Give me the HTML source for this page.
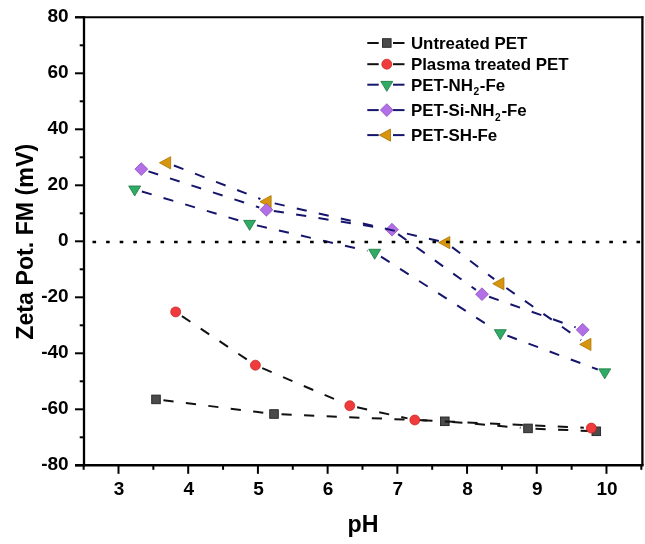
<!DOCTYPE html>
<html><head><meta charset="utf-8"><style>
html,body{margin:0;padding:0;background:#fff;}
svg{display:block;will-change:transform;}
text{font-family:"Liberation Sans",sans-serif;font-weight:bold;fill:#000;}
.tk{font-size:19px;}
.al{font-size:23.2px;}
.lg{font-size:16.9px;}
.sub{font-size:10.2px;}
</style></head><body>
<svg width="645" height="544" viewBox="0 0 645 544">
<rect width="645" height="544" fill="#fff"/>
<line x1="84" y1="16.3" x2="84" y2="466.4" stroke="#000" stroke-width="2.3"/>
<line x1="75" y1="17.3" x2="643.4" y2="17.3" stroke="#000" stroke-width="2"/>
<line x1="642.4" y1="16.3" x2="642.4" y2="465.2" stroke="#000" stroke-width="2.3"/>
<line x1="75" y1="465.2" x2="643.6" y2="465.2" stroke="#000" stroke-width="2.6"/>
<line x1="75" y1="465.30" x2="84" y2="465.30" stroke="#000" stroke-width="2"/>
<text x="68.6" y="470.40" text-anchor="end" class="tk">-80</text>
<line x1="79.7" y1="437.30" x2="84" y2="437.30" stroke="#000" stroke-width="2"/>
<line x1="75" y1="409.30" x2="84" y2="409.30" stroke="#000" stroke-width="2"/>
<text x="68.6" y="414.40" text-anchor="end" class="tk">-60</text>
<line x1="79.7" y1="381.30" x2="84" y2="381.30" stroke="#000" stroke-width="2"/>
<line x1="75" y1="353.30" x2="84" y2="353.30" stroke="#000" stroke-width="2"/>
<text x="68.6" y="358.40" text-anchor="end" class="tk">-40</text>
<line x1="79.7" y1="325.30" x2="84" y2="325.30" stroke="#000" stroke-width="2"/>
<line x1="75" y1="297.30" x2="84" y2="297.30" stroke="#000" stroke-width="2"/>
<text x="68.6" y="302.40" text-anchor="end" class="tk">-20</text>
<line x1="79.7" y1="269.30" x2="84" y2="269.30" stroke="#000" stroke-width="2"/>
<line x1="75" y1="241.30" x2="84" y2="241.30" stroke="#000" stroke-width="2"/>
<text x="68.6" y="246.40" text-anchor="end" class="tk">0</text>
<line x1="79.7" y1="213.30" x2="84" y2="213.30" stroke="#000" stroke-width="2"/>
<line x1="75" y1="185.30" x2="84" y2="185.30" stroke="#000" stroke-width="2"/>
<text x="68.6" y="190.40" text-anchor="end" class="tk">20</text>
<line x1="79.7" y1="157.30" x2="84" y2="157.30" stroke="#000" stroke-width="2"/>
<line x1="75" y1="129.30" x2="84" y2="129.30" stroke="#000" stroke-width="2"/>
<text x="68.6" y="134.40" text-anchor="end" class="tk">40</text>
<line x1="79.7" y1="101.30" x2="84" y2="101.30" stroke="#000" stroke-width="2"/>
<line x1="75" y1="73.30" x2="84" y2="73.30" stroke="#000" stroke-width="2"/>
<text x="68.6" y="78.40" text-anchor="end" class="tk">60</text>
<line x1="79.7" y1="45.30" x2="84" y2="45.30" stroke="#000" stroke-width="2"/>
<line x1="75" y1="17.30" x2="84" y2="17.30" stroke="#000" stroke-width="2"/>
<text x="68.6" y="22.40" text-anchor="end" class="tk">80</text>
<line x1="83.65" y1="465.2" x2="83.65" y2="469.8" stroke="#000" stroke-width="2"/>
<line x1="118.50" y1="465.2" x2="118.50" y2="473.8" stroke="#000" stroke-width="2"/>
<text x="119.00" y="494.9" text-anchor="middle" class="tk">3</text>
<line x1="153.35" y1="465.2" x2="153.35" y2="469.8" stroke="#000" stroke-width="2"/>
<line x1="188.21" y1="465.2" x2="188.21" y2="473.8" stroke="#000" stroke-width="2"/>
<text x="188.71" y="494.9" text-anchor="middle" class="tk">4</text>
<line x1="223.06" y1="465.2" x2="223.06" y2="469.8" stroke="#000" stroke-width="2"/>
<line x1="257.92" y1="465.2" x2="257.92" y2="473.8" stroke="#000" stroke-width="2"/>
<text x="258.42" y="494.9" text-anchor="middle" class="tk">5</text>
<line x1="292.77" y1="465.2" x2="292.77" y2="469.8" stroke="#000" stroke-width="2"/>
<line x1="327.63" y1="465.2" x2="327.63" y2="473.8" stroke="#000" stroke-width="2"/>
<text x="328.13" y="494.9" text-anchor="middle" class="tk">6</text>
<line x1="362.49" y1="465.2" x2="362.49" y2="469.8" stroke="#000" stroke-width="2"/>
<line x1="397.34" y1="465.2" x2="397.34" y2="473.8" stroke="#000" stroke-width="2"/>
<text x="397.84" y="494.9" text-anchor="middle" class="tk">7</text>
<line x1="432.19" y1="465.2" x2="432.19" y2="469.8" stroke="#000" stroke-width="2"/>
<line x1="467.05" y1="465.2" x2="467.05" y2="473.8" stroke="#000" stroke-width="2"/>
<text x="467.55" y="494.9" text-anchor="middle" class="tk">8</text>
<line x1="501.90" y1="465.2" x2="501.90" y2="469.8" stroke="#000" stroke-width="2"/>
<line x1="536.76" y1="465.2" x2="536.76" y2="473.8" stroke="#000" stroke-width="2"/>
<text x="537.26" y="494.9" text-anchor="middle" class="tk">9</text>
<line x1="571.62" y1="465.2" x2="571.62" y2="469.8" stroke="#000" stroke-width="2"/>
<line x1="606.47" y1="465.2" x2="606.47" y2="473.8" stroke="#000" stroke-width="2"/>
<text x="606.97" y="494.9" text-anchor="middle" class="tk">10</text>
<line x1="641.32" y1="465.2" x2="641.32" y2="469.8" stroke="#000" stroke-width="2"/>
<g stroke="#111" stroke-width="2" stroke-dasharray="10.2 12.4" fill="none"><line x1="163.44" y1="400.32" x2="266.56" y2="413.08"/><line x1="281.49" y1="414.32" x2="437.31" y2="420.98"/><line x1="452.27" y1="421.94" x2="520.53" y2="427.76"/><line x1="535.49" y1="428.72" x2="588.81" y2="430.98"/></g>
<rect x="151.70" y="395.10" width="8.6" height="8.6" fill="#4b4b4b" stroke="#222" stroke-width="0.9"/><rect x="269.70" y="409.70" width="8.6" height="8.6" fill="#4b4b4b" stroke="#222" stroke-width="0.9"/><rect x="440.50" y="417.00" width="8.6" height="8.6" fill="#4b4b4b" stroke="#222" stroke-width="0.9"/><rect x="523.70" y="424.10" width="8.6" height="8.6" fill="#4b4b4b" stroke="#222" stroke-width="0.9"/><rect x="592.00" y="427.00" width="8.6" height="8.6" fill="#4b4b4b" stroke="#222" stroke-width="0.9"/>
<g stroke="#111" stroke-width="2" stroke-dasharray="10.2 12.4" fill="none"><line x1="181.93" y1="316.07" x2="249.17" y2="361.03"/><line x1="262.29" y1="368.16" x2="342.91" y2="402.74"/><line x1="357.12" y1="407.31" x2="407.48" y2="418.39"/><line x1="422.29" y1="420.34" x2="583.81" y2="427.76"/></g>
<circle cx="175.70" cy="311.90" r="5.0" fill="#ef3b3b" stroke="#c42222" stroke-width="0.7"/><circle cx="255.40" cy="365.20" r="5.0" fill="#ef3b3b" stroke="#c42222" stroke-width="0.7"/><circle cx="349.80" cy="405.70" r="5.0" fill="#ef3b3b" stroke="#c42222" stroke-width="0.7"/><circle cx="414.80" cy="420.00" r="5.0" fill="#ef3b3b" stroke="#c42222" stroke-width="0.7"/><circle cx="591.30" cy="428.10" r="5.0" fill="#ef3b3b" stroke="#c42222" stroke-width="0.7"/>
<g stroke="#15156c" stroke-width="2" stroke-dasharray="10.2 12.4" fill="none"><line x1="141.88" y1="191.45" x2="242.42" y2="221.55"/><line x1="256.91" y1="225.39" x2="367.39" y2="250.91"/><line x1="381.02" y1="256.64" x2="493.98" y2="328.96"/><line x1="507.32" y1="335.64" x2="597.73" y2="369.56"/></g>
<polygon points="128.70,185.97 140.70,185.97 134.70,195.97" fill="#30ab66" stroke="#1c7642" stroke-width="0.8" stroke-linejoin="miter"/><polygon points="243.60,220.37 255.60,220.37 249.60,230.37" fill="#30ab66" stroke="#1c7642" stroke-width="0.8" stroke-linejoin="miter"/><polygon points="368.70,249.27 380.70,249.27 374.70,259.27" fill="#30ab66" stroke="#1c7642" stroke-width="0.8" stroke-linejoin="miter"/><polygon points="494.30,329.67 506.30,329.67 500.30,339.67" fill="#30ab66" stroke="#1c7642" stroke-width="0.8" stroke-linejoin="miter"/><polygon points="598.75,368.87 610.75,368.87 604.75,378.87" fill="#30ab66" stroke="#1c7642" stroke-width="0.8" stroke-linejoin="miter"/>
<g stroke="#15156c" stroke-width="2" stroke-dasharray="10.2 12.4" fill="none"><line x1="148.43" y1="171.42" x2="259.27" y2="207.48"/><line x1="273.81" y1="210.97" x2="384.59" y2="228.53"/><line x1="398.10" y1="234.07" x2="475.90" y2="289.83"/><line x1="489.07" y1="296.70" x2="575.63" y2="327.30"/></g>
<polygon points="159.43,162.80 170.63,156.70 170.63,168.90" fill="#d8960f" stroke="#a97400" stroke-width="0.8"/><polygon points="259.93,201.70 271.13,195.60 271.13,207.80" fill="#d8960f" stroke="#a97400" stroke-width="0.8"/><polygon points="438.63,242.60 449.83,236.50 449.83,248.70" fill="#d8960f" stroke="#a97400" stroke-width="0.8"/><polygon points="492.73,283.70 503.93,277.60 503.93,289.80" fill="#d8960f" stroke="#a97400" stroke-width="0.8"/><polygon points="579.73,344.40 590.93,338.30 590.93,350.50" fill="#d8960f" stroke="#a97400" stroke-width="0.8"/>
<polygon points="141.30,162.70 147.70,169.10 141.30,175.50 134.90,169.10" fill="#b36fe6" stroke="#8b4cc0" stroke-width="0.8"/><polygon points="266.40,203.40 272.80,209.80 266.40,216.20 260.00,209.80" fill="#b36fe6" stroke="#8b4cc0" stroke-width="0.8"/><polygon points="392.00,223.30 398.40,229.70 392.00,236.10 385.60,229.70" fill="#b36fe6" stroke="#8b4cc0" stroke-width="0.8"/><polygon points="482.00,287.80 488.40,294.20 482.00,300.60 475.60,294.20" fill="#b36fe6" stroke="#8b4cc0" stroke-width="0.8"/><polygon points="582.70,323.40 589.10,329.80 582.70,336.20 576.30,329.80" fill="#b36fe6" stroke="#8b4cc0" stroke-width="0.8"/>
<g stroke="#15156c" stroke-width="2" stroke-dasharray="10.2 12.4" fill="none"><line x1="173.89" y1="165.51" x2="260.41" y2="198.99"/><line x1="274.71" y1="203.37" x2="438.79" y2="240.93"/><line x1="452.07" y1="247.14" x2="494.23" y2="279.16"/><line x1="506.35" y1="287.99" x2="581.05" y2="340.11"/></g>
<line x1="92.5" y1="242" x2="641" y2="242" stroke="#000" stroke-width="2.6" stroke-dasharray="3.6 10" />
<text x="33" y="241.8" transform="rotate(-90 33 241.8)" text-anchor="middle" class="al">Zeta Pot. FM (mV)</text>
<text x="363" y="532" text-anchor="middle" class="al">pH</text>
<line x1="367.3" y1="43" x2="378.7" y2="43" stroke="#111" stroke-width="2"/>
<line x1="393" y1="43" x2="404.5" y2="43" stroke="#111" stroke-width="2"/>
<rect x="382.50" y="38.70" width="8.6" height="8.6" fill="#4b4b4b" stroke="#222" stroke-width="0.9"/>
<text x="410.9" y="49.10" class="lg">Untreated PET</text>
<line x1="367.3" y1="64.2" x2="378.7" y2="64.2" stroke="#111" stroke-width="2"/>
<line x1="393" y1="64.2" x2="404.5" y2="64.2" stroke="#111" stroke-width="2"/>
<circle cx="386.80" cy="64.20" r="5.0" fill="#ef3b3b" stroke="#c42222" stroke-width="0.7"/>
<text x="410.9" y="70.30" class="lg">Plasma treated PET</text>
<line x1="367.3" y1="84.7" x2="378.7" y2="84.7" stroke="#15156c" stroke-width="2"/>
<line x1="393" y1="84.7" x2="404.5" y2="84.7" stroke="#15156c" stroke-width="2"/>
<polygon points="380.80,81.37 392.80,81.37 386.80,91.37" fill="#30ab66" stroke="#1c7642" stroke-width="0.8" stroke-linejoin="miter"/>
<text x="410.9" y="90.80" class="lg">PET-NH<tspan class="sub" dx="0.6" dy="4.3">2</tspan><tspan dx="0.7" dy="-4.3">-Fe</tspan></text>
<line x1="367.3" y1="110.1" x2="378.7" y2="110.1" stroke="#15156c" stroke-width="2"/>
<line x1="393" y1="110.1" x2="404.5" y2="110.1" stroke="#15156c" stroke-width="2"/>
<polygon points="386.80,103.70 393.20,110.10 386.80,116.50 380.40,110.10" fill="#b36fe6" stroke="#8b4cc0" stroke-width="0.8"/>
<text x="410.9" y="116.20" class="lg">PET-Si-NH<tspan class="sub" dx="0.6" dy="4.3">2</tspan><tspan dx="0.7" dy="-4.3">-Fe</tspan></text>
<line x1="367.3" y1="135.1" x2="378.7" y2="135.1" stroke="#15156c" stroke-width="2"/>
<line x1="393" y1="135.1" x2="404.5" y2="135.1" stroke="#15156c" stroke-width="2"/>
<polygon points="379.33,135.10 390.53,129.00 390.53,141.20" fill="#d8960f" stroke="#a97400" stroke-width="0.8"/>
<text x="410.9" y="141.20" class="lg">PET-SH-Fe</text>
</svg>
</body></html>
